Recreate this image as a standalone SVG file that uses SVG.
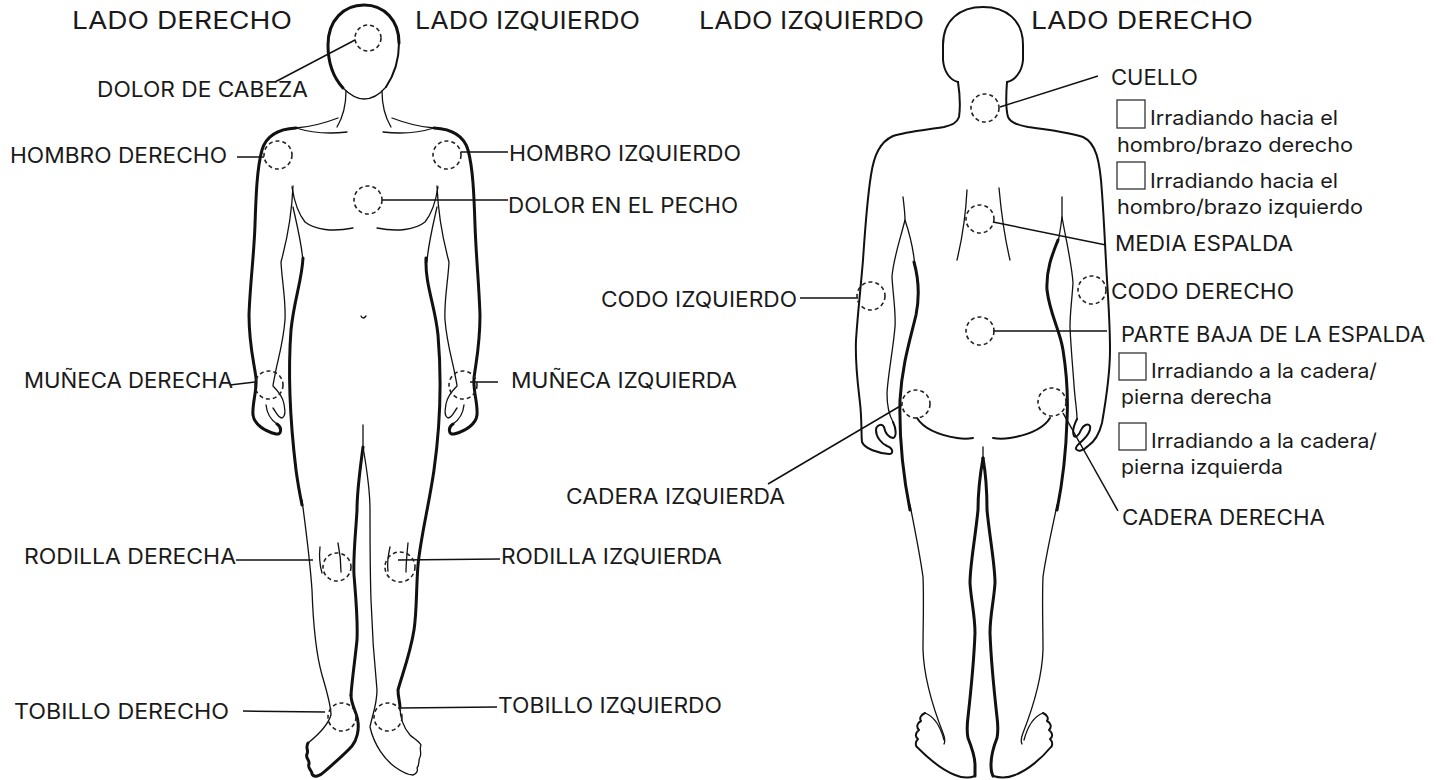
<svg xmlns="http://www.w3.org/2000/svg" width="1446" height="780" viewBox="0 0 1446 780">
<style>
.b{fill:none;stroke:#111;stroke-linecap:round;stroke-linejoin:round}
.k{stroke-width:3}
.m{stroke-width:2}
.t{stroke-width:1.3}
.c{fill:none;stroke:#222;stroke-width:1.6;stroke-dasharray:4 3}
.l{stroke:#111;stroke-width:1.5;fill:none}
.h{font-family:Inter,"DejaVu Sans",sans-serif;font-size:24px;fill:#1a1a1a}
.x{font-family:Inter,"DejaVu Sans",sans-serif;font-size:21px;fill:#1a1a1a}
.s{font-family:Inter,"DejaVu Sans",sans-serif;font-size:20px;fill:#1a1a1a}
.bx{fill:#fff;stroke:#333;stroke-width:1.3}
</style>
<rect width="1446" height="780" fill="#fff"/>

<g id="front-body">
<path class="b k" d="M343,88 C333,77 328,62 328,45 C328,20 344,5 364,5 C384,5 399,20 399,43"/>
<path class="b m" d="M399,43 C399,60 394,75 386,87"/>
<path class="b t" d="M343,88 C350,95 357,99 364,99 C372,99 380,94 386,87"/>
<path class="b t" d="M346,91 C346,105 343,117 337,127 M382,91 C382,105 385,117 391,127"/>
<path class="b t" d="M338,118 C325,123 310,127 296,128 M392,118 C405,123 420,127 434,128"/>
<path class="b t" d="M296,128 C312,133 330,134 347,132 M383,132 C400,134 418,133 434,128"/>
<path class="b k" d="M296,128 C278,129 266,136 262,150 C257,168 256,195 255,225 C254,255 250,285 249,315 C249,345 254,362 256,378 C257,392 252,403 253,415 C254,424 264,431 276,434 C282,435 282,427 277,424"/>
<path class="b t" d="M277,424 C271,420 267,414 266,405"/>
<path class="b k" d="M434,128 C452,129 464,136 468,150 C473,168 474,195 475,225 C476,255 479,285 480,315 C480,345 476,362 474,378 C473,392 478,403 477,415 C476,424 466,431 454,434 C448,435 448,427 453,424"/>
<path class="b t" d="M453,424 C459,420 463,414 464,405"/>
<path class="b t" d="M293,186 C292,210 287,240 281,262 C282,282 286,300 285,320 C283,345 277,362 275,375 C274,380 273,384 273,386 C279,392 283,398 284,404 C285,410 286,416 282,418 C278,418 276,412 273,408"/>
<path class="b t" d="M437,186 C438,210 443,240 449,262 C448,282 444,300 445,320 C447,345 453,362 455,375 C456,380 457,384 457,386 C451,392 447,398 446,404 C445,410 444,416 448,418 C452,418 454,412 457,408"/>
<path class="b t" d="M292,187 C294,200 297,212 305,222 C315,230 333,232 353,228 M438,187 C436,200 433,212 425,222 C415,230 397,232 377,228"/>
<path class="b t" d="M293,207 C297,225 302,245 303,262 M437,207 C433,225 428,245 427,262"/>
<path class="b k" d="M303,258 C302,280 294,300 291,330 C288,370 290,420 296,470 C298,485 300,495 302,505"/>
<path class="b t" d="M302,500 C306,530 310,560 312,590 C313,620 315,650 322,675 C327,692 331,705 331,715 C328,725 318,735 308,743"/>
<path class="b k" d="M308,743 C305,748 309,750 307,754 C305,758 310,760 309,764 C307,768 312,770 312,774 C314,778 320,776 324,772 C333,764 344,755 352,746 C357,740 359,730 358,722 C357,712 351,705 351,695"/>
<path class="b k" d="M363,447 C360,470 357,490 357,510 C356,530 353,555 354,575 C356,600 358,620 357,640 C355,660 352,680 351,695"/>
<path class="b t" d="M363,425 L363,447"/>
<path class="b t" d="M363,447 C367,470 370,490 370,510 C370,540 370,570 371,600 C372,630 374,660 377,690 C377,705 372,716 370,727 C374,745 385,760 395,767 C402,772 408,775 413,775 C417,774 418,770 417,768 C420,765 418,760 420,757 C422,753 419,749 421,745 C419,741 413,738 410,735 C404,728 400,718 400,707"/>
<path class="b k" d="M426,258 C425,285 435,305 438,335 C441,370 441,420 434,470 C429,505 421,535 418,565 C416,590 417,610 414,630 C410,655 402,675 398,690 C398,697 400,702 400,707"/>
<path class="b t" d="M320,547 C319,556 320,566 322,573 M338,543 C340,553 341,563 341,572 M390,547 C388,556 387,564 388,571 M408,543 C407,553 406,563 406,572"/>
<path class="b t" d="M361,316 Q363,320 366,316"/>
</g>

<g id="back-body">
<path class="b m" d="M958,82 C950,80 944,72 943,60 L943,45 C943,20 960,7 983,7 C1006,7 1023,20 1023,45 L1023,60 C1022,72 1015,80 1007,82"/>
<path class="b m" d="M958,82 C960,95 960,110 959,117 C957,123 952,125 944,127 C925,130 905,132 893,136 C880,142 874,155 871,175 C867,200 865,230 863,260 C861,285 858,310 856,340 C855,365 858,385 860,403 C862,420 861,432 862,442 C865,449 878,453 889,454 C894,454 893,448 887,446 C881,443 876,437 876,430 C876,425 882,423 884,427 C885,432 888,437 893,438 C897,437 896,428 893,422"/>
<path class="b t" d="M903,197 C904,205 905,213 905,220 C900,240 893,260 892,277 C893,295 896,312 895,327 C893,350 888,375 887,393 C887,405 889,415 893,422"/>
<path class="b t" d="M905,220 C910,235 914,252 915,268"/>
<path class="b k" d="M914,262 C919,280 920,295 916,315 C910,340 902,365 900,400 C899,440 904,480 910,510"/>
<path class="b t" d="M910,505 C915,530 920,555 923,577 C924,600 923,625 923,650 C924,680 934,710 943,733 C945,738 945,742 944,744"/>
<path class="b m" d="M925,713 C921,715 919,718 921,721 C917,723 916,727 919,730 C915,733 915,737 918,739 C915,742 915,746 918,748 C928,758 942,770 955,775 C962,778 970,778 975,776"/>
<path class="b t" d="M925,713 C933,716 940,725 944,740"/>
<path class="b k" d="M983,458 C980,475 978,492 978,510 C975,540 970,565 970,583 C971,600 975,615 975,633 C974,660 971,690 968,717 C967,725 967,733 968,738 C972,748 975,758 975,765 C975,770 975,774 975,776"/>
<path class="b k" d="M983,458 C986,475 987,492 987,510 C990,540 995,565 995,583 C994,600 990,615 990,633 C991,660 994,690 997,717 C998,725 998,733 997,738 C993,748 991,758 991,765 C991,770 992,774 993,776"/>
<path class="b t" d="M983,447 L983,460"/>
<path class="b m" d="M993,776 C1000,778 1008,778 1015,775 C1028,770 1042,758 1050,748 C1053,746 1053,742 1050,739 C1053,737 1053,733 1049,730 C1052,727 1051,723 1047,721 C1049,718 1047,715 1043,713"/>
<path class="b t" d="M1043,713 C1035,716 1028,725 1024,740"/>
<path class="b t" d="M1057,505 C1052,530 1046,555 1043,577 C1042,600 1043,625 1043,650 C1042,680 1032,710 1023,733 C1021,738 1021,742 1022,744"/>
<path class="b t" d="M1062,217 C1061,225 1060,233 1058,242"/>
<path class="b k" d="M1058,240 C1052,255 1046,270 1047,290 C1050,315 1060,330 1063,350 C1067,375 1068,400 1067,420 C1066,455 1062,485 1057,510"/>
<path class="b m" d="M1007,82 C1006,95 1006,110 1008,117 C1011,123 1018,125 1028,127 C1048,130 1068,132 1083,137 C1096,143 1100,160 1102,193 C1104,220 1105,245 1107,280 C1109,310 1110,330 1110,350 C1110,375 1106,400 1102,423 C1099,435 1094,442 1088,446 C1083,451 1078,452 1076,449 C1075,446 1079,444 1083,440 C1088,435 1091,430 1090,426 C1088,423 1083,425 1081,430 C1079,435 1076,438 1074,436 C1072,432 1074,425 1077,419"/>
<path class="b t" d="M1062,197 C1062,205 1062,212 1062,217 C1066,240 1072,265 1073,283 C1072,300 1070,312 1070,327 C1071,350 1073,370 1074,385 C1075,400 1077,410 1077,419"/>
<path class="b t" d="M967,190 C966,210 963,235 957,260 M999,188 C1001,210 1004,235 1010,260"/>
<path class="b m" d="M917,418 C922,426 933,434 957,438 C963,439 968,439 973,438 M1050,418 C1045,426 1034,434 1010,438 C1004,439 998,439 993,438"/>
</g>

<g id="headers">
<text class="h" x="72" y="29" textLength="220" lengthAdjust="spacingAndGlyphs">LADO DERECHO</text>
<text class="h" x="415" y="29" textLength="225" lengthAdjust="spacingAndGlyphs">LADO IZQUIERDO</text>
<text class="h" x="699" y="29" textLength="225" lengthAdjust="spacingAndGlyphs">LADO IZQUIERDO</text>
<text class="h" x="1031" y="29" textLength="222" lengthAdjust="spacingAndGlyphs">LADO DERECHO</text>
</g>

<g id="connectors">
<line class="l" x1="275" y1="82" x2="355" y2="40"/>
<line class="l" x1="237" y1="157" x2="264" y2="157"/>
<line class="l" x1="461" y1="152" x2="508" y2="152"/>
<line class="l" x1="382" y1="200" x2="508" y2="200"/>
<line class="l" x1="230" y1="385" x2="255" y2="382"/>
<line class="l" x1="470" y1="382" x2="498" y2="382"/>
<line class="l" x1="236" y1="560" x2="313" y2="560"/>
<line class="l" x1="398" y1="560" x2="500" y2="559"/>
<line class="l" x1="243" y1="711" x2="325" y2="712"/>
<line class="l" x1="400" y1="708" x2="497" y2="707"/>
<line class="l" x1="1000" y1="107" x2="1098" y2="76"/>
<line class="l" x1="993" y1="222" x2="1106" y2="245"/>
<line class="l" x1="800" y1="298" x2="858" y2="298"/>
<line class="l" x1="993" y1="331" x2="1107" y2="331"/>
<line class="l" x1="768" y1="484" x2="902" y2="405"/>
<line class="l" x1="1063" y1="413" x2="1118" y2="511"/>
</g>

<g id="n-cabeza"><circle class="c" cx="368" cy="38" r="13"/><text class="x" x="97" y="97" textLength="211" lengthAdjust="spacingAndGlyphs">DOLOR DE CABEZA</text></g>
<g id="n-hombro-der"><circle class="c" cx="278" cy="155" r="14"/><text class="x" x="10" y="163" textLength="217" lengthAdjust="spacingAndGlyphs">HOMBRO DERECHO</text></g>
<g id="n-hombro-izq"><circle class="c" cx="447" cy="155" r="14"/><text class="x" x="509" y="161" textLength="232" lengthAdjust="spacingAndGlyphs">HOMBRO IZQUIERDO</text></g>
<g id="n-pecho"><circle class="c" cx="368" cy="200" r="14"/><text class="x" x="508" y="213" textLength="230" lengthAdjust="spacingAndGlyphs">DOLOR EN EL PECHO</text></g>
<g id="n-muneca-der"><circle class="c" cx="269" cy="385" r="14"/><text class="x" x="24" y="388" textLength="209" lengthAdjust="spacingAndGlyphs">MUÑECA DERECHA</text></g>
<g id="n-muneca-izq"><circle class="c" cx="463" cy="385" r="14"/><text class="x" x="511" y="388" textLength="226" lengthAdjust="spacingAndGlyphs">MUÑECA IZQUIERDA</text></g>
<g id="n-rodilla-der"><circle class="c" cx="337" cy="567" r="14"/><text class="x" x="24" y="564" textLength="212" lengthAdjust="spacingAndGlyphs">RODILLA DERECHA</text></g>
<g id="n-rodilla-izq"><circle class="c" cx="400" cy="567" r="15"/><text class="x" x="501" y="564" textLength="221" lengthAdjust="spacingAndGlyphs">RODILLA IZQUIERDA</text></g>
<g id="n-tobillo-der"><circle class="c" cx="342" cy="717" r="14"/><text class="x" x="14" y="719" textLength="215" lengthAdjust="spacingAndGlyphs">TOBILLO DERECHO</text></g>
<g id="n-tobillo-izq"><circle class="c" cx="388" cy="717" r="14"/><text class="x" x="498" y="713" textLength="224" lengthAdjust="spacingAndGlyphs">TOBILLO IZQUIERDO</text></g>

<g id="n-cuello"><circle class="c" cx="985" cy="108" r="14"/><text class="x" x="1111" y="85" textLength="87" lengthAdjust="spacingAndGlyphs">CUELLO</text>
<rect class="bx" x="1117" y="100" width="28" height="28"/><text class="s" x="1150" y="125" textLength="188" lengthAdjust="spacingAndGlyphs">Irradiando hacia el</text><text class="s" x="1117" y="152" textLength="236" lengthAdjust="spacingAndGlyphs">hombro/brazo derecho</text>
<rect class="bx" x="1117" y="162" width="28" height="27"/><text class="s" x="1150" y="188" textLength="188" lengthAdjust="spacingAndGlyphs">Irradiando hacia el</text><text class="s" x="1117" y="214" textLength="246" lengthAdjust="spacingAndGlyphs">hombro/brazo izquierdo</text></g>
<g id="n-media-espalda"><circle class="c" cx="980" cy="219" r="14"/><text class="x" x="1115" y="251" textLength="178" lengthAdjust="spacingAndGlyphs">MEDIA ESPALDA</text></g>
<g id="n-codo-izq"><circle class="c" cx="871" cy="296" r="14"/><text class="x" x="601" y="307" textLength="196" lengthAdjust="spacingAndGlyphs">CODO IZQUIERDO</text></g>
<g id="n-codo-der"><circle class="c" cx="1092" cy="290" r="14"/><text class="x" x="1111" y="299" textLength="183" lengthAdjust="spacingAndGlyphs">CODO DERECHO</text></g>
<g id="n-baja-espalda"><circle class="c" cx="980" cy="331" r="14"/><text class="x" x="1121" y="342" textLength="304" lengthAdjust="spacingAndGlyphs">PARTE BAJA DE LA ESPALDA</text>
<rect class="bx" x="1119" y="353" width="27" height="27"/><text class="s" x="1151" y="378" textLength="226" lengthAdjust="spacingAndGlyphs">Irradiando a la cadera/</text><text class="s" x="1121" y="404" textLength="151" lengthAdjust="spacingAndGlyphs">pierna derecha</text>
<rect class="bx" x="1119" y="423" width="27" height="27"/><text class="s" x="1151" y="448" textLength="226" lengthAdjust="spacingAndGlyphs">Irradiando a la cadera/</text><text class="s" x="1121" y="474" textLength="162" lengthAdjust="spacingAndGlyphs">pierna izquierda</text></g>
<g id="n-cadera-izq"><circle class="c" cx="916" cy="404" r="14"/><text class="x" x="566" y="504" textLength="219" lengthAdjust="spacingAndGlyphs">CADERA IZQUIERDA</text></g>
<g id="n-cadera-der"><circle class="c" cx="1052" cy="402" r="14"/><text class="x" x="1122" y="525" textLength="203" lengthAdjust="spacingAndGlyphs">CADERA DERECHA</text></g>
</svg>
